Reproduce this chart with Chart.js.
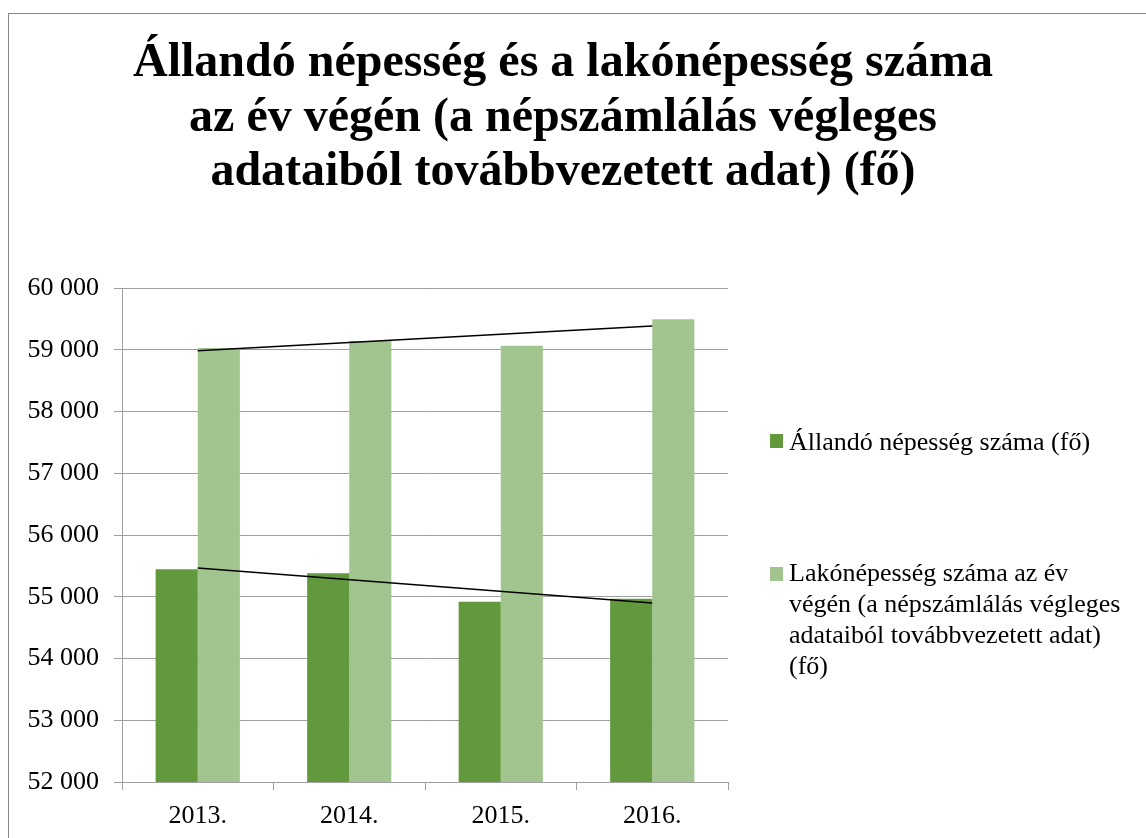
<!DOCTYPE html>
<html lang="hu">
<head>
    <meta charset="UTF-8">
    <title>Állandó népesség és lakónépesség</title>
    <script src="https://cdn.jsdelivr.net/npm/chart.js"></script>
    <style>
        html, body { margin: 0; padding: 0; background: #fff; overflow: hidden; }
        body { width: 1146px; height: 838px; position: relative; font-family: 'Liberation Serif', 'Times New Roman', serif; }
        .frame { position: absolute; left: 8px; top: 13px; width: 1200px; height: 900px; border: 1px solid #878787; }
        #chartWrap { position: absolute; left: 0; top: 0; width: 1126px; height: 838px; }
        .title { position: absolute; left: 0; top: 33px; width: 1126px; text-align: center; font-size: 48px; font-weight: bold; line-height: 54.5px; color: #000; white-space: nowrap; }
        .legend { position: absolute; left: 770px; top: 0; }
        .legend-item { position: absolute; left: 0; white-space: nowrap; }
        .legend-box { position: absolute; left: 0; width: 13px; height: 14px; }
        .legend-text { position: absolute; left: 19px; font-size: 26px; line-height: 31px; color: #000; }
    </style>
</head>
<body>
    <div class="frame"></div>
    <div id="chartWrap"><canvas id="popChart" width="1126" height="838"></canvas></div>

    <!-- Cím -->
    <div class="title">Állandó népesség és a lakónépesség száma<br>az év végén (a népszámlálás végleges<br>adataiból továbbvezetett adat) (fő)</div>

    <!-- Jelmagyarázat -->
    <div class="legend">
        <div class="legend-item">
            <div class="legend-box" id="box1" style="top:434px"></div>
            <div class="legend-text" style="top:426px">Állandó népesség száma (fő)</div>
        </div>
        <div class="legend-item">
            <div class="legend-box" id="box2" style="top:567px"></div>
            <div class="legend-text" style="top:557px">Lakónépesség száma az év<br>végén (a népszámlálás végleges<br>adataiból továbbvezetett adat)<br>(fő)</div>
        </div>
    </div>

    <script>
        // Adatok
        const evek = ['2013.', '2014.', '2015.', '2016.'];
        const allandoNepesseg = [55445, 55379, 54920, 54969];
        const lakonepesseg = [59028, 59142, 59066, 59493];
        // trendvonalak végpontjai
        const allandoTrend = [55464, null, null, 54897];
        const lakoTrend = [58982, null, null, 59383];

        const szinek = {
            allando: '#63993d',
            lako: '#a2c590',
            racs: '#a0a0a0'
        };

        document.getElementById('box1').style.background = szinek.allando;
        document.getElementById('box2').style.background = szinek.lako;

        const betu = "'Liberation Serif', 'Times New Roman', serif";

        function ezres(v) {
            const s = String(Math.round(v));
            return s.replace(/\B(?=(\d{3})+(?!\d))/g, ' ');
        }

        new Chart(document.getElementById('popChart'), {
            type: 'bar',
            data: {
                labels: evek,
                datasets: [
                    {
                        type: 'line',
                        data: allandoTrend,
                        borderColor: '#000',
                        borderWidth: 1.5,
                        pointRadius: 0,
                        spanGaps: true,
                        order: 0
                    },
                    {
                        type: 'line',
                        data: lakoTrend,
                        borderColor: '#000',
                        borderWidth: 1.5,
                        pointRadius: 0,
                        spanGaps: true,
                        order: 0
                    },
                    {
                        label: 'Állandó népesség száma (fő)',
                        data: allandoNepesseg,
                        backgroundColor: szinek.allando,
                        borderWidth: 0,
                        categoryPercentage: 0.556,
                        barPercentage: 1,
                        order: 1
                    },
                    {
                        label: 'Lakónépesség száma az év végén (a népszámlálás végleges adataiból továbbvezetett adat) (fő)',
                        data: lakonepesseg,
                        backgroundColor: szinek.lako,
                        borderWidth: 0,
                        categoryPercentage: 0.556,
                        barPercentage: 1,
                        order: 1
                    }
                ]
            },
            options: {
                responsive: false,
                animation: false,
                layout: { padding: { left: 0, right: 398, top: 288, bottom: 0 } },
                plugins: {
                    legend: { display: false },
                    tooltip: { enabled: false },
                    title: { display: false }
                },
                scales: {
                    x: {
                        afterFit: (scale) => { scale.height = 56; },
                        grid: {
                            offset: true,
                            drawOnChartArea: false,
                            drawTicks: true,
                            tickLength: 8,
                            color: szinek.racs
                        },
                        border: { display: true, color: szinek.racs },
                        ticks: {
                            color: '#000',
                            padding: 11,
                            font: { family: betu, size: 26 }
                        }
                    },
                    y: {
                        min: 52000,
                        max: 60000,
                        afterFit: (scale) => { scale.width = 122; },
                        grid: {
                            color: szinek.racs,
                            drawTicks: true,
                            tickLength: 8
                        },
                        border: { display: true, color: szinek.racs },
                        ticks: {
                            stepSize: 1000,
                            color: '#000',
                            padding: 15,
                            font: { family: betu, size: 26 },
                            callback: (v) => ezres(v)
                        }
                    }
                }
            }
        });
    </script>
</body>
</html>
